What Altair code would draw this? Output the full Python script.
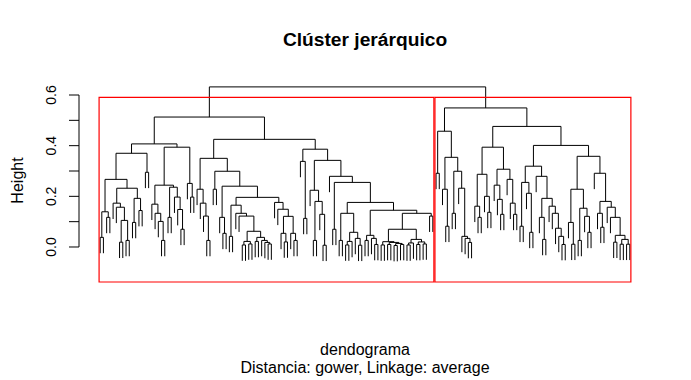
import altair as alt
import pandas as pd

# ---------------- data: dendrogram ----------------
# node = [merge height, left child, right child]; L = a leaf
L = 0

A1 = [0.407,
      [0.370,
       [0.267,
        [0.139, [0.038, L, L], [0.117, L, L]],
        [0.232,
         [0.173, L, [0.157, L, [0.105, [0.019, L, L], [0.026, L, L]]]],
         [0.192, [0.097, L, L], [0.144, L, L]]]],
       [0.295, L, L]],
      [0.394,
       [0.244,
        [0.169, L, [0.133, L, [0.101, L, [0.026, L, L]]]],
        [0.236, [0.117, L, L], [0.197, L, [0.148, L, [0.070, L, L]]]]],
       [0.251, L, [0.197, L, L]]]]

T1 = [0.165, [0.042, L, L],
      [0.133, L, [0.122, L, [0.062,
                             [0.022, [0.008, L, L], [0.012, L, L]],
                             [0.038, [0.022, L, L], [0.026, L, [0.018, L, [0.012, L, L]]]]]]]]
T2 = [0.176, L, [0.149, L, [0.121, [0.054, L, [0.020, L, L]], [0.054, L, [0.026, L, L]]]]]

A2L = [0.350,
       [0.228, L, [0.173, L, [0.122, L, [0.026, L, L]]]],
       [0.299,
        [0.228, L, L],
        [0.240,
         [0.117, L, [0.054, L, L]],
         [0.196, T1, T2]]]]

V2A = [0.133, [0.026, L, L], [0.058, [0.022, [0.008, L, L], L], [0.034, L, [0.007, L, L]]]]
W1 = [0.046, [0.026, L, L], [0.034, L, [0.010, L, L]]]
W2 = [0.133,
      [0.070,
       [0.021, [0.008, L, L], [0.018, [0.010, L, L], [0.014, [0.006, L, L], [0.010, L, L]]]],
       [0.030, [0.016, [0.008, L, L], L], [0.020, [0.010, L, L], [0.012, L, L]]]],
      [0.122, L, L]]

A2R = [0.386,
       [0.338, L, [0.113, L, L]],
       [0.342,
        [0.224, L, [0.180, [0.026, L, L], [0.129, L, [0.007, L, L]]]],
        [0.279, L,
         [0.255,
          [0.070, L, L],
          [0.176, V2A, [0.145, W1, W2]]]]]]

B1 = [0.457,
      [0.291, L, L],
      [0.354,
       [0.228, L, [0.082, L, L]],
       [0.299, [0.133, L, L], [0.232, L, [0.042, L, [0.034, L, [0.018, L, L]]]]]]]

B2A = [0.394,
       [0.287, [0.161, L, [0.117, L, L]], [0.200, L, [0.137, L, L]]],
       [0.307, [0.244, L, [0.188, L, [0.129, L, L]]], [0.267, L, [0.173, L, [0.129, L, L]]]]]

D1 = [0.319,
      [0.255, [0.082, L, L], [0.212, L, [0.058, L, L]]],
      [0.279, L, [0.192, [0.117, L, [0.030, L, L]],
                  [0.161, L, [0.133, L, [0.074, L, [0.042, L, [0.010, L, L]]]]]]]]

D2 = [0.358,
      [0.228, [0.097, L, [0.011, L, L]], [0.153, [0.026, L, L], [0.121, L, [0.058, L, L]]]],
      [0.291, L, [0.180, [0.133, L, [0.078, L, L]],
                  [0.157, L, [0.117, L, [0.046, [0.019, L, L],
                                          [0.030, [0.011, L, L], [0.011, L, L]]]]]]]]

TOP_HEIGHTS = {"A2": 0.425, "A": 0.513, "B2B": 0.401, "B2": 0.476, "B": 0.549, "ROOT": 0.632}

CLUSTER_A = [TOP_HEIGHTS["A"], A1, [TOP_HEIGHTS["A2"], A2L, A2R]]
CLUSTER_B = [TOP_HEIGHTS["B"], B1, [TOP_HEIGHTS["B2"], B2A, [TOP_HEIGHTS["B2B"], D1, D2]]]
ROOT = [TOP_HEIGHTS["ROOT"], CLUSTER_A, CLUSTER_B]

Y_TICKS = [0.0, 0.1, 0.2, 0.3, 0.4, 0.5, 0.6]
Y_LABELS = ["0.0", "0.2", "0.4", "0.6"]

TITLE = "Clúster jerárquico"
XLAB = "dendograma"
SUB = "Distancia: gower, Linkage: average"
YLAB = "Height"

# ---------------- build segments ----------------
def heights(node, out):
    if node == L:
        return
    out.append(node[0])
    heights(node[1], out)
    heights(node[2], out)

def count(node):
    return 1 if node == L else count(node[1]) + count(node[2])

hs = []
heights(ROOT, hs)
HANG = 0.1 * (max(hs) - min(hs))

segs = []
counter = [0]

def layout(node):
    if node == L:
        counter[0] += 1
        return counter[0], None
    h, l, r = node
    xl, yl = layout(l)
    xr, yr = layout(r)
    yl = h - HANG if yl is None else yl
    yr = h - HANG if yr is None else yr
    segs.append(dict(x=xl, x2=xr, y=h, y2=h))
    segs.append(dict(x=xl, x2=xl, y=h, y2=yl))
    segs.append(dict(x=xr, x2=xr, y=h, y2=yr))
    return (xl + xr) / 2, h

layout(ROOT)
n = counter[0]
nA = count(CLUSTER_A)
seg_df = pd.DataFrame(segs)

XDOM = [1 - 0.04 * (n - 1), n + 0.04 * (n - 1)]
YDOM = [-0.1382, 0.6632]
xs = alt.Scale(domain=XDOM, nice=False, zero=False)
ys = alt.Scale(domain=YDOM, nice=False, zero=False)

cut = (max(hs) + TOP_HEIGHTS["B"]) / 2
rect_df = pd.DataFrame({
    "x": [0.66, nA + 0.66],
    "x2": [nA + 0.33, n + 0.33],
    "y": [YDOM[0], YDOM[0]],
    "y2": [cut, cut],
})

FONT = "Liberation Sans"

dend = alt.Chart(seg_df).mark_rule(color="black", strokeWidth=1).encode(
    x=alt.X("x:Q", scale=xs, axis=None),
    x2="x2:Q",
    y=alt.Y("y:Q", scale=ys, axis=None),
    y2="y2:Q",
)

rects = alt.Chart(rect_df).mark_rect(filled=False, stroke="#ff0000", strokeWidth=1.2, clip=False).encode(
    x=alt.X("x:Q", scale=xs, axis=None),
    x2="x2:Q",
    y=alt.Y("y:Q", scale=ys, axis=None),
    y2="y2:Q",
)

tick_df = pd.DataFrame({"v": Y_TICKS})
axis_line = alt.Chart(pd.DataFrame({"a": [Y_TICKS[0]], "b": [Y_TICKS[-1]]})).mark_rule(color="black").encode(
    x=alt.value(0),
    y=alt.Y("a:Q", scale=ys, axis=None),
    y2="b:Q",
)
ticks = alt.Chart(tick_df).mark_rule(color="black").encode(
    x=alt.value(-10),
    x2=alt.value(0),
    y=alt.Y("v:Q", scale=ys, axis=None),
)
lab_df = pd.DataFrame({"v": [float(s) for s in Y_LABELS], "t": Y_LABELS})
labels = alt.Chart(lab_df).mark_text(
    angle=270, align="center", baseline="alphabetic", font=FONT, fontSize=14, color="black"
).encode(
    x=alt.value(-23),
    y=alt.Y("v:Q", scale=ys, axis=None),
    text="t:N",
)

def text_layer(txt, px, py, size, weight="normal", angle=0):
    return alt.Chart(pd.DataFrame({"t": [txt]})).mark_text(
        align="center", baseline="alphabetic", font=FONT, fontSize=size,
        fontWeight=weight, angle=angle, color="black"
    ).encode(x=alt.value(px), y=alt.value(py), text="t:N")

W, H = 572, 203
title = text_layer(TITLE, W / 2, -33, 19.2, "bold")
xlab = text_layer(XLAB, W / 2, 276, 16)
sub = text_layer(SUB, W / 2, 294, 16)
ylab = text_layer(YLAB, -56, H / 2, 16, angle=270)

chart = alt.layer(dend, rects, axis_line, ticks, labels, title, xlab, sub, ylab).properties(
    width=W, height=H,
    autosize=alt.AutoSizeParams(type="none"),
    padding={"left": 71, "top": 71, "right": 30, "bottom": 96},
    background="white",
).configure_view(strokeWidth=0)

chart.save("out.html", embed_options={"renderer": "svg", "actions": False})
